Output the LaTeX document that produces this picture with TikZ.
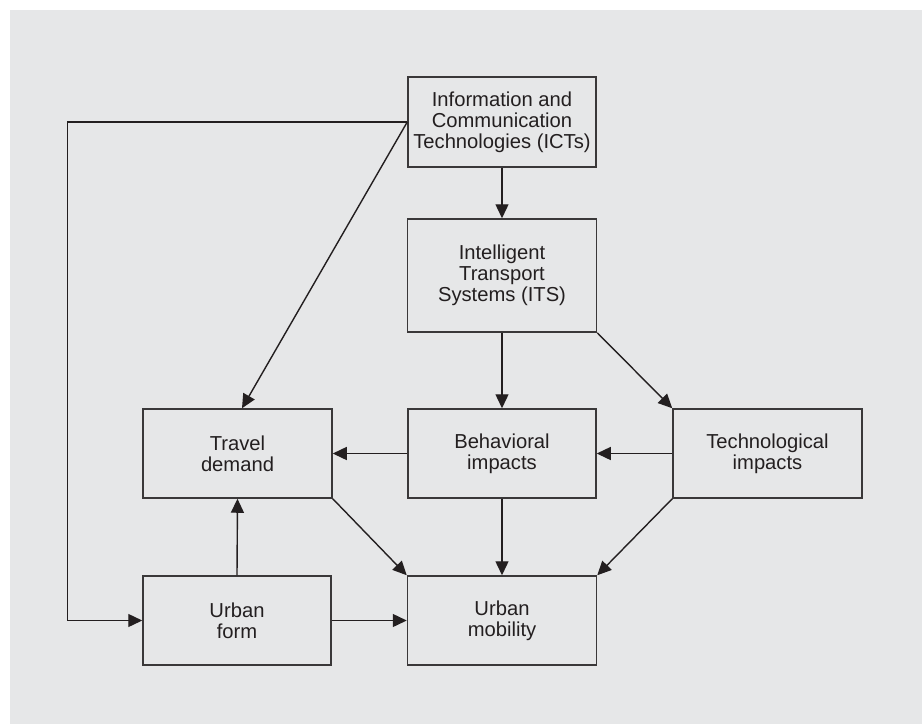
\documentclass[tikz,border=0pt]{standalone}
\usepackage{fontspec}
\setmainfont{Liberation Sans}
\usetikzlibrary{arrows.meta}
\definecolor{bg}{HTML}{E6E7E8}
\definecolor{ink}{HTML}{231F20}
\definecolor{edge}{HTML}{3A3839}
\begin{document}
\begin{tikzpicture}[x=1pt,y=-1pt,
  box/.style={draw=edge,line width=1.5pt,align=center,text=ink,inner sep=0pt,
    font=\fontsize{20.2}{20.8}\selectfont},
  conn/.style={draw=ink,line width=1.4pt,-{Triangle[length=14pt,width=13pt]}}]
\useasboundingbox (0,0) rectangle (922,724);
\fill[bg] (10,10) rectangle (922,724);
\node[box,minimum width=188pt,minimum height=90pt] (ict) at (502,122) {Information and\\Communication\\Technologies (ICTs)};
\node[box,minimum width=189pt,minimum height=113pt] (its) at (502,275.5) {Intelligent\\Transport\\Systems (ITS)};
\node[box,minimum width=189pt,minimum height=89pt] (td) at (237.5,453.5) {Travel\\demand};
\node[box,minimum width=188pt,minimum height=89pt] (bi) at (502,453.5) {Behavioral\\impacts};
\node[box,minimum width=189pt,minimum height=89pt] (ti) at (767.5,453.5) {Technological\\impacts};
\node[box,minimum width=188pt,minimum height=89pt] (uf) at (237,620.5) {Urban\\form};
\node[box,minimum width=189pt,minimum height=89pt] (um) at (502,620.5) {Urban\\mobility};
\coordinate (tdin) at ([xshift=4.5pt]td.north);
\draw[conn] (ict.south) -- (its.north);
\draw[conn] (ict.west) -- ++(-340,0) |- (uf.west);
\draw[conn] (ict.west) -- (tdin);
\draw[conn] (its.south) -- (bi.north);
\draw[conn] (its.south east) -- (ti.north west);
\draw[conn] (bi.west) -- (td.east);
\draw[conn] (ti.west) -- (bi.east);
\draw[conn] (td.south east) -- (um.north west);
\draw[conn] (bi.south) -- (um.north);
\draw[conn] (ti.south west) -- (um.north east);
\draw[conn] (uf.north) -- (td.south);
\draw[conn] (uf.east) -- (um.west);
\end{tikzpicture}
\end{document}
